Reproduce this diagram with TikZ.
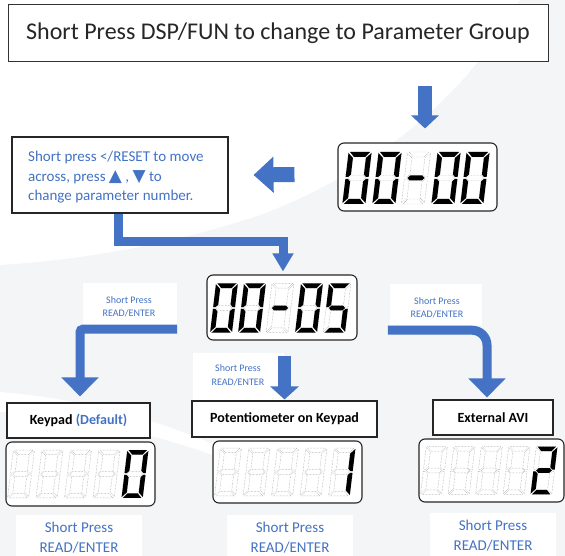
\documentclass[tikz,border=0pt]{standalone}
\usepackage{fontspec}
\setmainfont{Carlito}
\usetikzlibrary{arrows.meta,calc}
\definecolor{ablue}{HTML}{4472C4}
\definecolor{tblue}{HTML}{4472C4}
\definecolor{bggrey}{HTML}{F4F5F7}
\definecolor{titlec}{HTML}{262626}
% seven-segment geometry (local, y up)
\def\sgA{(-10,26) -- (10,26) -- (5.5,21) -- (-5.5,21) -- cycle}
\def\sgD{(-10,-26) -- (10,-26) -- (5.5,-21) -- (-5.5,-21) -- cycle}
\def\sgG{(-8.5,0) -- (-6,2.5) -- (6,2.5) -- (8.5,0) -- (6,-2.5) -- (-6,-2.5) -- cycle}
\def\sgF{(-11.5,25) -- (-6.5,20) -- (-6.5,3.5) -- (-9,1) -- (-11.5,1) -- cycle}
\def\sgB{(11.5,25) -- (6.5,20) -- (6.5,3.5) -- (9,1) -- (11.5,1) -- cycle}
\def\sgE{(-11.5,-25) -- (-6.5,-20) -- (-6.5,-3.5) -- (-9,-1) -- (-11.5,-1) -- cycle}
\def\sgC{(11.5,-25) -- (6.5,-20) -- (6.5,-3.5) -- (9,-1) -- (11.5,-1) -- cycle}
\def\sgN{(0,0)}
\newcommand\lcddigit[4]{%
  \begin{scope}[shift={(#1,#2)},xslant=0.12,yscale=-1,scale=#3]
    \foreach \s in {A,B,C,D,E,F,G}{\draw[ghost] \csname sg\s\endcsname;}
    \foreach \s in {#4}{\fill[black] \csname sg\s\endcsname;}
  \end{scope}}
\tikzset{
  ghost/.style={draw=gray!85, line width=0.45pt, densely dotted},
  lcdbox/.style={draw=black!85, fill=white, line width=1.1pt, rounded corners=6pt, inner sep=0pt},
  blackbox/.style={draw=black!85, fill=white, line width=1.1pt, inner sep=0pt},
  whitelab/.style={fill=white, inner sep=0pt, text=tblue, align=center},
  conn/.style={draw=ablue, line width=9pt, -{Triangle[width=36pt,length=19pt]}},
}
\begin{document}
\begin{tikzpicture}[x=1pt,y=-1pt]
\useasboundingbox (0,0) rectangle (565,556);
% background
\fill[bggrey] (0,0) rectangle (565,556);
\fill[white] (0,0) -- (520,0) .. controls (470,90) and (380,170) .. (260,215) .. controls (170,245) and (80,260) .. (0,265) -- cycle;
\fill[white] (0,392) .. controls (120,402) and (230,440) .. (320,505) .. controls (230,452) and (120,420) .. (0,412) -- cycle;

% title
\node[draw=black!80, fill=white, line width=1pt, minimum width=540pt, minimum height=57pt, inner sep=0pt,
      font=\fontsize{24}{27}\selectfont, text=titlec] (title) at (278,33.5) {Short Press DSP/FUN to change to Parameter Group};

% first LCD
\node[lcdbox, minimum width=159pt, minimum height=68pt] (lcdA) at (417.5,177) {};
\lcddigit{357}{178}{1}{A,B,C,D,E,F}
\lcddigit{387}{178}{1}{A,B,C,D,E,F}
\lcddigit{416}{178}{1}{G}
\lcddigit{446}{178}{1}{A,B,C,D,E,F}
\lcddigit{475}{178}{1}{A,B,C,D,E,F}

% note box
\node[blackbox, minimum width=216pt, minimum height=76pt] (note) at (120,175) {};
\node[text=tblue, font=\fontsize{15}{19.5}\selectfont, align=left, anchor=north west, inner sep=0pt] (notetext) at (28,151)
  {Short press </RESET to move\\ across, press {\fontspec{DejaVu Sans}\fontsize{17}{19}\selectfont▲} , {\fontspec{DejaVu Sans}\fontsize{17}{19}\selectfont▼} to\\ change parameter number.};

% second LCD
\node[lcdbox, minimum width=150pt, minimum height=65pt] (lcdB) at (282,307.5) {};
\lcddigit{224}{308}{0.95}{A,B,C,D,E,F}
\lcddigit{252}{308}{0.95}{A,B,C,D,E,F}
\lcddigit{280}{308}{0.95}{G}
\lcddigit{309}{308}{0.95}{A,B,C,D,E,F}
\lcddigit{337}{308}{0.95}{A,F,G,C,D}

% small labels
\node[whitelab, minimum width=94pt, minimum height=42pt] (lab1) at (130,304) {};
\node[text=tblue, align=center, font=\fontsize{10}{13}\selectfont] (lab1t) at (129,307) {Short Press\\READ/ENTER};
\node[whitelab, minimum width=91pt, minimum height=47pt] (lab2) at (238.5,376.5) {};
\node[text=tblue, align=center, font=\fontsize{10}{13.5}\selectfont] (lab2t) at (238,375) {Short Press\\READ/ENTER};
\node[whitelab, minimum width=92pt, minimum height=41pt] (lab3) at (436,304.5) {};
\node[text=tblue, align=center, font=\fontsize{10}{13}\selectfont] (lab3t) at (437,307.5) {Short Press\\READ/ENTER};

% option boxes
\node[blackbox, minimum width=143pt, minimum height=35pt, font=\bfseries\fontsize{14}{16}\selectfont] (box1) at (78.5,420.5) {Keypad \textcolor{tblue}{(Default)}};
\node[blackbox, minimum width=185pt, minimum height=36pt, font=\bfseries\fontsize{14}{16}\selectfont] (box2) at (284.5,419) {Potentiometer on Keypad};
\node[blackbox, minimum width=120pt, minimum height=35pt, font=\bfseries\fontsize{14}{16}\selectfont] (box3) at (493,417.5) {External AVI};

% bottom LCDs
\node[lcdbox, minimum width=149pt, minimum height=64pt] (lcd1) at (80.5,474) {};
\foreach \i in {0,1,2,3}{\lcddigit{21+28.5*\i}{474}{0.92}{N}}
\lcddigit{135}{474}{0.92}{A,B,C,D,E,F}
\node[lcdbox, minimum width=149pt, minimum height=62pt] (lcd2) at (287.5,472) {};
\foreach \i in {0,1,2,3}{\lcddigit{228+28.5*\i}{472}{0.92}{N}}
\lcddigit{342}{472}{0.92}{B,C}
\node[lcdbox, minimum width=145pt, minimum height=63pt] (lcd3) at (491.5,470.5) {};
\foreach \i in {0,1,2,3}{\lcddigit{434+27.5*\i}{470.5}{0.92}{N}}
\lcddigit{544}{470.5}{0.92}{A,B,G,E,D}

% bottom labels
\node[whitelab, minimum width=126pt, minimum height=46pt, font=\fontsize{15}{20}\selectfont] (bl1) at (79,537.5) {Short Press\\READ/ENTER};
\node[whitelab, minimum width=126pt, minimum height=46pt, font=\fontsize{15}{20}\selectfont] (bl2) at (290,537.5) {Short Press\\READ/ENTER};
\node[whitelab, minimum width=126pt, minimum height=46pt, font=\fontsize{15}{20}\selectfont] (bl3) at (493,536) {Short Press\\READ/ENTER};

% connectors
\draw[draw=ablue, line width=14pt, -{Triangle[width=27pt,length=13pt]}]
  ($(lcdA.north)+(7.5,-56)$) -- ($(lcdA.north)+(7.5,-14)$);
\draw[draw=ablue, line width=15pt, -{Triangle[width=35pt,length=20pt]}]
  ($(lcdA.west)+(-43,-2.5)$) -- ($(note.east)+(25,0)$);
\draw[draw=ablue, line width=9pt, -{Triangle[width=20pt,length=18pt]}]
  ([xshift=-2pt]note.south) -- ++(0,27.5) -| ([xshift=1pt,yshift=3pt]lcdB.north);
\draw[conn, rounded corners=3pt] ([yshift=-4pt]lab1.south east) -| ([xshift=1.5pt,yshift=6pt]box1.north);
\draw[draw=ablue, line width=13pt, -{Triangle[width=28pt,length=13pt]}]
  ($(box2.north)+(0,-44)$) -- ([yshift=1pt]box2.north);
\draw[conn, rounded corners=15pt] ([xshift=-2pt,yshift=-5pt]lab3.south west) -| ([xshift=-6pt,yshift=2pt]box3.north);
\end{tikzpicture}
\end{document}
